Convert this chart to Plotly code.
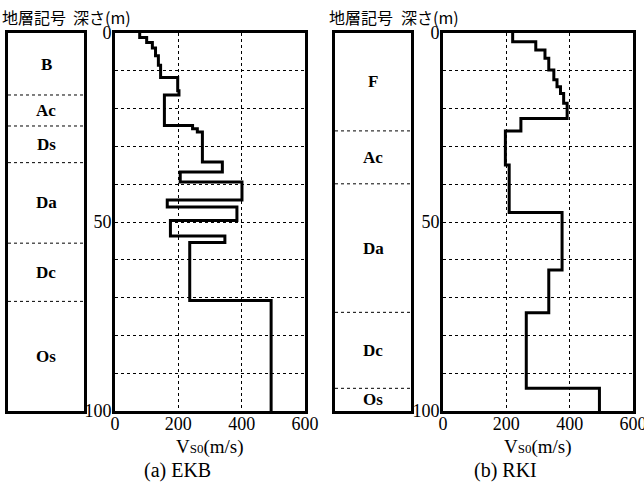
import plotly.graph_objects as go

# ---- data ----
# EKB velocity profile: layer top depths (m) and Vs0 (m/s)
ekb_tops = [0, 1.2, 2.5, 4, 6, 8.5, 11.8, 15.3, 16.4, 24.5, 25.3, 26.2, 34.1, 36.8,
            39.4, 44.2, 46.0, 49.6, 53.7, 55.4, 70.8]
ekb_vs = [78, 100, 118, 128, 137, 144, 198, 202, 156, 245, 260, 276, 339, 206,
          401, 165, 385, 175, 347, 236, 493]
# RKI velocity profile
rki_tops = [0, 2.3, 4.5, 6.7, 9.8, 12.4, 14.2, 16.0, 18.6, 22.6, 25.9, 34.9, 47.5,
            62.7, 74.0, 94.0]
rki_vs = [220, 293, 322, 334, 350, 360, 371, 381, 392, 246, 197, 209, 376, 334,
          263, 494]
max_depth = 100

# strata
ekb_strata = ["B", "Ac", "Ds", "Da", "Dc", "Os"]
ekb_bounds = [0, 16.4, 24.6, 34.3, 55.6, 71.0, 100]
rki_strata = ["F", "Ac", "Da", "Dc", "Os"]
rki_bounds = [0, 25.9, 39.9, 73.9, 94.0, 100]

x_ticks = [0, 200, 400, 600]
y_ticks = [0, 50, 100]
titles = ["(a) EKB", "(b) RKI"]

SERIF = "Liberation Serif"
CJK = "Noto Sans CJK JP"
W, H = 644, 483


def px(x):
    return x / W


def py(y):
    return 1 - y / H


def step(tops, vs, bottom):
    xs, ys = [], []
    for i, v in enumerate(vs):
        t = tops[i]
        b = tops[i + 1] if i + 1 < len(tops) else bottom
        xs += [v, v]
        ys += [t, b]
    return xs, ys


fig = go.Figure()

panels = [
    dict(strata=ekb_strata, bounds=ekb_bounds, tops=ekb_tops, vs=ekb_vs,
         sx=(8, 84), prx=(115, 305), title=titles[0]),
    dict(strata=rki_strata, bounds=rki_bounds, tops=rki_tops, vs=rki_vs,
         sx=(335, 411), prx=(443, 633), title=titles[1]),
]

ytop, ybot = 33, 411
annotations = []
for k, p in enumerate(panels):
    sa = 2 * k + 1
    pa = 2 * k + 2
    sxn = "x" if sa == 1 else f"x{sa}"
    syn = "y" if sa == 1 else f"y{sa}"
    pxn = f"x{pa}"
    pyn = f"y{pa}"

    # strata boundaries (dotted)
    for b in p["bounds"][1:-1]:
        fig.add_trace(go.Scatter(x=[0, 1], y=[b, b], mode="lines", xaxis=sxn, yaxis=syn,
                                 line=dict(color="black", width=1, dash="dot"),
                                 showlegend=False, hoverinfo="skip"))
    # strata labels
    for i, name in enumerate(p["strata"]):
        c = (p["bounds"][i] + p["bounds"][i + 1]) / 2
        annotations.append(dict(x=0.5, y=c, xref=sxn, yref=syn, text="<b>" + name + "</b>",
                                showarrow=False, xanchor="center", yanchor="middle",
                                font=dict(family=SERIF, size=17, color="black")))

    # velocity profile
    xs, ys = step(p["tops"], p["vs"], max_depth)
    fig.add_trace(go.Scatter(x=xs, y=ys, mode="lines", xaxis=pxn, yaxis=pyn,
                             line=dict(color="black", width=3),
                             showlegend=False))

    frame = dict(showline=True, mirror=True, linecolor="black", linewidth=3,
                 zeroline=False, automargin=False)
    fig.layout[f"xaxis{'' if sa == 1 else sa}"] = dict(
        domain=[px(p["sx"][0]), px(p["sx"][1])], anchor=syn, range=[0, 1],
        showticklabels=False, showgrid=False, ticks="", **frame)
    fig.layout[f"yaxis{'' if sa == 1 else sa}"] = dict(
        domain=[py(ybot), py(ytop)], anchor=sxn, range=[max_depth, 0],
        showticklabels=False, showgrid=False, ticks="", **frame)

    fig.layout[f"xaxis{pa}"] = dict(
        domain=[px(p["prx"][0]), px(p["prx"][1])], anchor=pyn, range=[0, 600],
        tickvals=x_ticks, ticks="", showgrid=True, griddash="dot", gridcolor="black",
        gridwidth=1, ticklabeloverflow="allow", ticklabelstandoff=-6,
        tickfont=dict(family=SERIF, size=18, color="black"), **frame)
    fig.layout[f"yaxis{pa}"] = dict(
        domain=[py(ybot), py(ytop)], anchor=pxn, range=[max_depth, 0],
        tickvals=y_ticks, ticks="", showgrid=True, griddash="dot", gridcolor="black",
        gridwidth=1, ticklabeloverflow="allow", ticklabelstandoff=-3,
        tickfont=dict(family=SERIF, size=18, color="black"),
        minor=dict(dtick=10, showgrid=True, griddash="dot", gridcolor="black",
                   gridwidth=1, ticks=""),
        **frame)

    # headers
    annotations.append(dict(x=px(p["sx"][0] - 8), y=py(17), xref="paper", yref="paper",
                            text="地層記号", showarrow=False, xanchor="left", yanchor="middle",
                            font=dict(family=CJK, size=16, color="black")))
    annotations.append(dict(x=px(p["prx"][0] - 44), y=py(17), xref="paper", yref="paper",
                            text="深さ(m)", showarrow=False, xanchor="left", yanchor="middle",
                            font=dict(family=CJK, size=16, color="black")))
    cx = (p["prx"][0] + p["prx"][1]) / 2
    annotations.append(dict(x=px(cx), y=py(447), xref="paper", yref="paper",
                            text="V<span style='font-size:13px'>S0</span>(m/s)",
                            showarrow=False, xanchor="center", yanchor="middle",
                            font=dict(family=SERIF, size=19, color="black")))
    annotations.append(dict(x=px(cx - 33), y=py(470), xref="paper", yref="paper",
                            text=p["title"], showarrow=False, xanchor="center",
                            yanchor="middle",
                            font=dict(family=SERIF, size=20, color="black")))

fig.update_layout(width=W, height=H, margin=dict(l=0, r=0, t=0, b=0, pad=0,
                                                 autoexpand=False),
                  paper_bgcolor="white", plot_bgcolor="white",
                  annotations=annotations, showlegend=False)

fig.write_html("out.html")
